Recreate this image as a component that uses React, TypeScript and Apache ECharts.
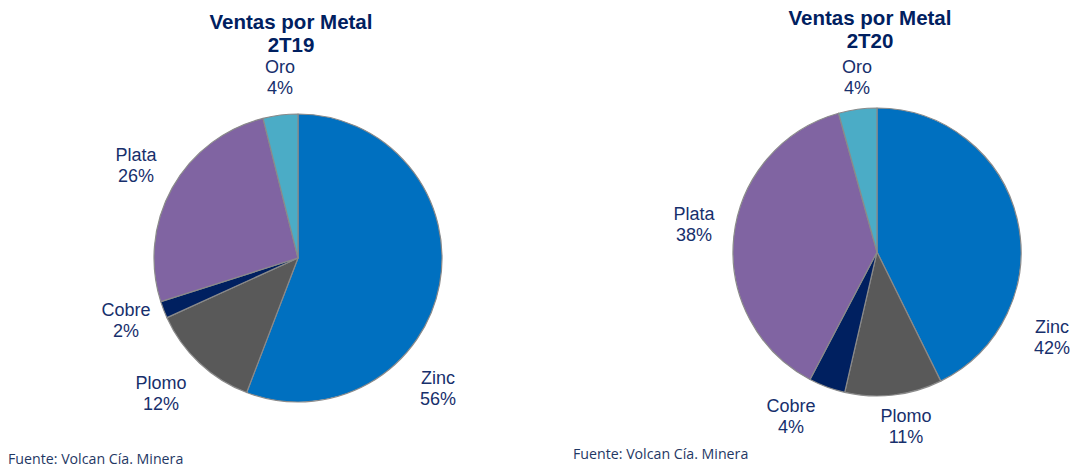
import React, { useEffect, useRef } from "react";
import * as echarts from "echarts";

const categories = ["Zinc", "Plomo", "Cobre", "Plata", "Oro"];
const values2T19 = [55.8, 12.4, 1.9, 26.0, 3.9];
const values2T20 = [42.7, 10.9, 4.1, 38.0, 4.3];
const labels2T19 = ["56%", "12%", "2%", "26%", "4%"];
const labels2T20 = ["42%", "11%", "4%", "38%", "4%"];
const colors = ["#0070C0", "#595959", "#002060", "#8064A2", "#4BACC6"];

// label offsets from pie centre (layout only)
const labelOffsetsL = [[140, 130], [-137, 135], [-172, 62], [-162, -93], [-18, -181]];
const labelOffsetsR = [[175, 85], [29, 174], [-86, 164], [-183, -28], [-20, -175]];

const NAVY = "#172F6C";
const FONT = "'Liberation Sans', Arial, sans-serif";
const centers = [[298, 258], [877, 252]];

export default function App() {
  const ref = useRef<HTMLDivElement>(null);
  useEffect(() => {
    const chart = echarts.init(ref.current!, null, { renderer: "svg" });
    const mk = (idx: number, vals: number[], labs: string[]) => ({
      type: "pie",
      center: centers[idx],
      radius: 144,
      startAngle: 90,
      clockwise: true,
      avoidLabelOverlap: false,
      data: categories.map((c, i) => ({
        name: c,
        value: vals[i],
        itemStyle: { color: colors[i] },
        label: { formatter: c + "\n" + labs[i] },
      })),
      itemStyle: { borderColor: "#8a8a8a", borderWidth: 1.2 },
      label: {
        show: true,
        position: "outside",
        color: NAVY,
        fontFamily: FONT,
        fontSize: 18,
        lineHeight: 21,
        align: "center",
      },
      labelLine: { show: false },
      labelLayout: (p: any) => {
        const offs = idx === 0 ? labelOffsetsL : labelOffsetsR;
        const o = offs[p.dataIndex];
        return {
          x: centers[idx][0] + o[0],
          y: centers[idx][1] + o[1],
          align: "center",
          verticalAlign: "middle",
        };
      },
      emphasis: { disabled: true },
    });
    const title = (x: number, y: number, text: string) => ({
      type: "text",
      x,
      y,
      style: {
        text,
        align: "center",
        verticalAlign: "middle",
        fill: "#002060",
        fontFamily: FONT,
        fontWeight: "bold",
        fontSize: 20.5,
      },
    });
    const foot = (x: number, y: number) => ({
      type: "text",
      x,
      y,
      style: {
        text: "Fuente: Volcan Cía. Minera",
        align: "left",
        verticalAlign: "middle",
        fill: "#1F3864",
        fontFamily: "'Open Sans', sans-serif",
        fontSize: 14.2,
      },
    });
    chart.setOption({
      animation: false,
      backgroundColor: "#ffffff",
      series: [mk(0, values2T19, labels2T19), mk(1, values2T20, labels2T20)],
      graphic: [
        title(291, 21, "Ventas por Metal"),
        title(291, 44, "2T19"),
        title(870, 17, "Ventas por Metal"),
        title(870, 40, "2T20"),
        foot(8, 458),
        foot(573, 453),
      ],
    });
    return () => chart.dispose();
  }, []);
  return (
    <div
      ref={ref}
      style={{ position: "fixed", left: 0, top: 0, width: 1073, height: 468 }}
    />
  );
}
